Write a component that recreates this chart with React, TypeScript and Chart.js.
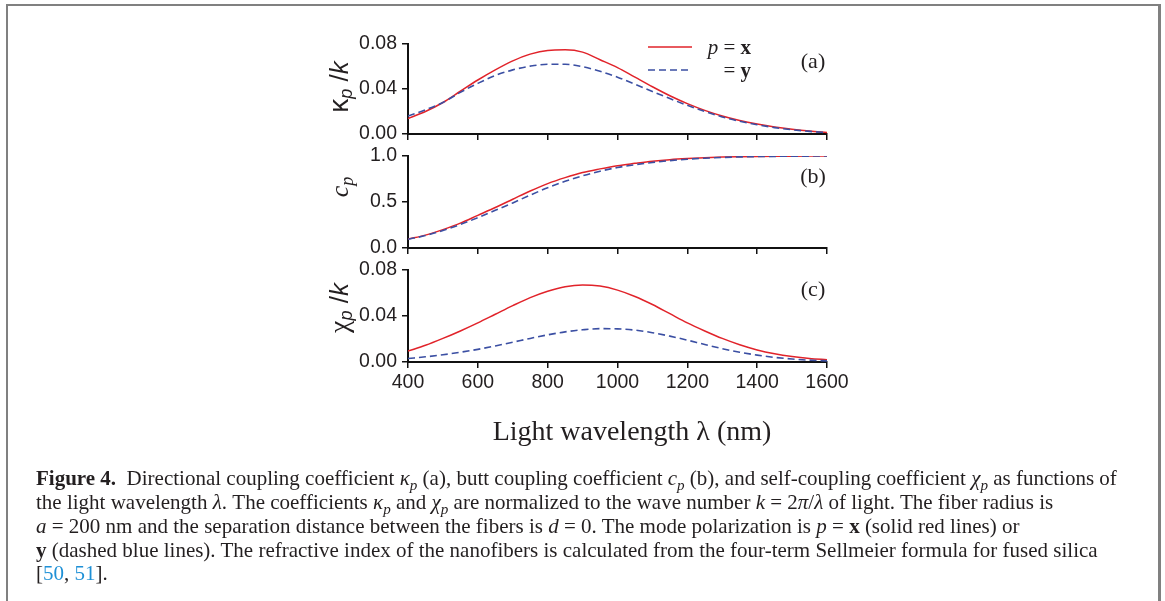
import React, { useEffect, useRef } from "react";
import { Chart, registerables } from "chart.js";

Chart.register(...registerables);

// ---------------- data ----------------
const wavelengths = [
  400, 450, 500, 550, 600, 650, 700, 750, 800, 850, 900, 950, 1000, 1050, 1100,
  1150, 1200, 1250, 1300, 1350, 1400, 1450, 1500, 1550, 1600,
];

// (a) directional coupling kappa_p / k
const kappaX = [
  0.0138, 0.020, 0.028, 0.038, 0.048, 0.057, 0.065, 0.071, 0.0743, 0.0748,
  0.0728, 0.066, 0.059, 0.0505, 0.042, 0.034, 0.027, 0.021, 0.016, 0.012,
  0.0088, 0.0062, 0.0042, 0.0026, 0.0014,
];
const kappaY = [
  0.016, 0.0215, 0.028, 0.037, 0.045, 0.052, 0.057, 0.0603, 0.062, 0.062,
  0.0598, 0.0558, 0.0505, 0.0443, 0.0378, 0.0315, 0.0255, 0.020, 0.0152,
  0.0113, 0.0082, 0.0057, 0.0038, 0.0023, 0.0012,
];

// (b) butt coupling c_p
const buttX = [
  0.097, 0.14, 0.2, 0.27, 0.355, 0.44, 0.53, 0.62, 0.7, 0.765, 0.82, 0.86,
  0.895, 0.92, 0.943, 0.96, 0.972, 0.981, 0.988, 0.992, 0.995, 0.997, 0.998,
  0.999, 1.0,
];
const buttY = [
  0.095, 0.135, 0.19, 0.255, 0.33, 0.41, 0.49, 0.575, 0.655, 0.725, 0.785,
  0.835, 0.875, 0.905, 0.93, 0.95, 0.965, 0.976, 0.984, 0.99, 0.994, 0.996,
  0.998, 0.999, 1.0,
];

// (c) self coupling chi_p / k
const chiX = [
  0.0095, 0.0145, 0.0205, 0.027, 0.034, 0.0415, 0.049, 0.056, 0.0615, 0.0655,
  0.067, 0.066, 0.0625, 0.057, 0.05, 0.042, 0.034, 0.027, 0.0205, 0.015,
  0.0105, 0.0072, 0.0048, 0.0031, 0.002,
];
const chiY = [
  0.003, 0.0045, 0.0063, 0.0085, 0.011, 0.014, 0.0172, 0.0205, 0.0236, 0.0262,
  0.028, 0.029, 0.0288, 0.0277, 0.0255, 0.0225, 0.019, 0.0152, 0.0116, 0.0085,
  0.006, 0.004, 0.0026, 0.0016, 0.001,
];

const xTicks = [400, 600, 800, 1000, 1200, 1400, 1600];
const kappaTicks = [0, 0.04, 0.08];
const buttTicks = [0, 0.5, 1.0];
const chiTicks = [0, 0.04, 0.08];

// ---------------- layout / style ----------------
const W = 1165;
const H = 601;
const PLOT_LEFT = 408;
const PLOT_RIGHT = 827;
const Y_AXIS_W = 68;
const RED = "#e1232a";
const BLUE = "#3b4fa3";
const TICK_FONT = { family: "'Liberation Sans', Arial, sans-serif", size: 19.5 };
const TICK_COLOR = "#231f20";

type Panel = {
  top: number;
  bottom: number;
  xs: number[];
  ys: number[];
  yTicks: number[];
  digits: number;
  showX: boolean;
};

const panels: Panel[] = [
  { top: 44, bottom: 134, xs: kappaX, ys: kappaY, yTicks: kappaTicks, digits: 2, showX: false },
  { top: 156, bottom: 248, xs: buttX, ys: buttY, yTicks: buttTicks, digits: 1, showX: false },
  { top: 270, bottom: 362, xs: chiX, ys: chiY, yTicks: chiTicks, digits: 2, showX: true },
];

function pts(vals: number[]) {
  return wavelengths.map((w, i) => ({ x: w, y: vals[i] }));
}

function makeConfig(p: Panel): any {
  const xAxisH = p.showX ? 34 : 8;
  return {
    type: "line",
    data: {
      datasets: [
        {
          label: "y",
          data: pts(p.ys),
          borderColor: BLUE,
          borderWidth: 1.6,
          borderDash: [7, 4],
          pointRadius: 0,
          cubicInterpolationMode: "monotone",
          fill: false,
        },
        {
          label: "x",
          data: pts(p.xs),
          borderColor: RED,
          borderWidth: 1.5,
          pointRadius: 0,
          cubicInterpolationMode: "monotone",
          fill: false,
        },
      ],
    },
    options: {
      responsive: false,
      animation: false,
      events: [],
      layout: {
        padding: {
          left: PLOT_LEFT - Y_AXIS_W,
          right: W - PLOT_RIGHT,
          top: p.top,
          bottom: H - p.bottom - xAxisH,
        },
      },
      plugins: { legend: { display: false }, tooltip: { enabled: false } },
      scales: {
        x: {
          type: "linear",
          min: 400,
          max: 1600,
          afterBuildTicks: (s: any) => {
            s.ticks = xTicks.map((v) => ({ value: v }));
          },
          afterFit: (s: any) => {
            s.height = xAxisH;
          },
          ticks: {
            display: p.showX,
            font: TICK_FONT,
            color: TICK_COLOR,
            padding: 3,
            maxRotation: 0,
            autoSkip: false,
            callback: (v: any) => String(v),
          },
          grid: {
            drawOnChartArea: false,
            drawTicks: true,
            tickLength: 6,
            color: "#111",
            lineWidth: 1.5,
          },
          border: { display: true, color: "#111", width: 2 },
        },
        y: {
          type: "linear",
          min: p.yTicks[0],
          max: p.yTicks[p.yTicks.length - 1],
          afterBuildTicks: (s: any) => {
            s.ticks = p.yTicks.map((v) => ({ value: v }));
          },
          afterFit: (s: any) => {
            s.width = Y_AXIS_W;
          },
          ticks: {
            font: TICK_FONT,
            color: TICK_COLOR,
            padding: 5,
            autoSkip: false,
            callback: (v: any) => Number(v).toFixed(p.digits),
          },
          grid: {
            drawOnChartArea: false,
            drawTicks: true,
            tickLength: 6,
            color: "#111",
            lineWidth: 1.5,
          },
          border: { display: true, color: "#111", width: 2 },
        },
      },
    },
  };
}

function PanelChart({ panel }: { panel: Panel }) {
  const ref = useRef<HTMLCanvasElement | null>(null);
  useEffect(() => {
    if (!ref.current) return;
    const chart = new Chart(ref.current, makeConfig(panel));
    return () => chart.destroy();
  }, [panel]);
  return (
    <canvas
      ref={ref}
      width={W}
      height={H}
      style={{ position: "absolute", left: 0, top: 0, width: W, height: H }}
    />
  );
}

const serif = "'Liberation Serif', 'Times New Roman', serif";
const sans = "'Liberation Sans', Arial, sans-serif";

function YTitle({ cx, cy, children }: { cx: number; cy: number; children: React.ReactNode }) {
  return (
    <div
      style={{
        position: "absolute",
        left: cx,
        top: cy,
        transform: "translate(-50%, -50%) rotate(-90deg)",
        whiteSpace: "nowrap",
        fontSize: 26,
        lineHeight: "30px",
        color: "#231f20",
      }}
    >
      {children}
    </div>
  );
}

function Label({ x, y, size, children, align = "center", family = serif }: any) {
  const tx = align === "center" ? "-50%" : align === "right" ? "-100%" : "0";
  return (
    <div
      style={{
        position: "absolute",
        left: x,
        top: y,
        transform: `translate(${tx}, -50%)`,
        whiteSpace: "nowrap",
        fontFamily: family,
        fontSize: size,
        lineHeight: `${Math.round(size * 1.2)}px`,
        color: "#231f20",
      }}
    >
      {children}
    </div>
  );
}

const sub = (t: string) => (
  <sub style={{ fontSize: "0.7em", verticalAlign: "-0.25em", fontStyle: "italic", lineHeight: 0 }}>{t}</sub>
);
const csub = (t: string) => (
  <sub style={{ fontSize: "0.72em", verticalAlign: "-0.3em", fontStyle: "italic", lineHeight: 0 }}>{t}</sub>
);
const I = (t: string) => <i>{t}</i>;
const B = (t: string) => <b>{t}</b>;
const LINK = "#1e90d6";

const captionLines: React.ReactNode[] = [
  <>
    <b>Figure 4.</b>&nbsp;&nbsp;Directional coupling coefficient {I("κ")}
    {csub("p")} (a), butt coupling coefficient {I("c")}
    {csub("p")} (b), and self-coupling coefficient {I("χ")}
    {csub("p")} as functions of
  </>,
  <>
    the light wavelength {I("λ")}. The coefficients {I("κ")}
    {csub("p")} and {I("χ")}
    {csub("p")} are normalized to the wave number {I("k")} = 2{I("π")}/{I("λ")} of light. The fiber
    radius is
  </>,
  <>
    {I("a")} = 200 nm and the separation distance between the fibers is {I("d")} = 0. The mode
    polarization is {I("p")} = {B("x")} (solid red lines) or
  </>,
  <>
    {B("y")} (dashed blue lines). The refractive index of the nanofibers is calculated from the
    four-term Sellmeier formula for fused silica
  </>,
  <>
    [<span style={{ color: LINK }}>50</span>, <span style={{ color: LINK }}>51</span>].
  </>,
];
const captionCenters = [478, 502, 526, 550, 573];

export default function App() {
  return (
    <div
      style={{
        position: "absolute",
        left: 0,
        top: 0,
        width: W,
        height: H,
        overflow: "hidden",
        background: "#fff",
      }}
    >
      {/* frame */}
      <div
        style={{
          position: "absolute",
          left: 6,
          top: 4,
          width: 1155,
          height: 700,
          boxSizing: "border-box",
          borderTop: "2px solid #808080",
          borderLeft: "2px solid #808080",
          borderRight: "3px solid #808080",
        }}
      />

      {panels.map((p, i) => (
        <PanelChart key={i} panel={p} />
      ))}

      {/* y-axis titles */}
      <YTitle cx={339} cy={87}>
        <span style={{ fontFamily: sans, fontSize: 28 }}>κ</span>
        <span style={{ fontFamily: sans }}>{sub("p")}</span>
        <span style={{ fontFamily: sans }}> /</span>
        <span style={{ fontFamily: sans, fontStyle: "italic" }}>k</span>
      </YTitle>
      <YTitle cx={340} cy={187}>
        <span style={{ fontFamily: serif, fontStyle: "italic" }}>c</span>
        <span style={{ fontFamily: serif }}>{sub("p")}</span>
      </YTitle>
      <YTitle cx={339} cy={308}>
        <span style={{ fontFamily: serif, fontSize: 28 }}>χ</span>
        <span style={{ fontFamily: sans }}>{sub("p")}</span>
        <span style={{ fontFamily: sans }}> /</span>
        <span style={{ fontFamily: sans, fontStyle: "italic" }}>k</span>
      </YTitle>

      {/* panel labels */}
      <Label x={813} y={61} size={22}>(a)</Label>
      <Label x={813} y={176} size={22}>(b)</Label>
      <Label x={813} y={289} size={22}>(c)</Label>

      {/* legend */}
      <svg
        width={60}
        height={40}
        style={{ position: "absolute", left: 640, top: 37 }}
      >
        <line x1={8} y1={10} x2={52} y2={10} stroke={RED} strokeWidth={1.5} />
        <line x1={8} y1={33} x2={52} y2={33} stroke={BLUE} strokeWidth={1.6} strokeDasharray="7 4" />
      </svg>
      <Label x={751} y={47} size={21} align="right">
        <i>p</i> = <b>x</b>
      </Label>
      <Label x={751} y={70} size={21} align="right">
        = <b>y</b>
      </Label>

      {/* x-axis title */}
      <Label x={632} y={431} size={28}>
        Light wavelength λ (nm)
      </Label>

      {/* caption */}
      {captionLines.map((ln, i) => (
        <div
          key={i}
          style={{
            position: "absolute",
            left: 36,
            top: captionCenters[i] - 12,
            height: 24,
            lineHeight: "24px",
            whiteSpace: "nowrap",
            fontFamily: serif,
            fontSize: 21,
            color: "#231f20",
          }}
        >
          {ln}
        </div>
      ))}
    </div>
  );
}
